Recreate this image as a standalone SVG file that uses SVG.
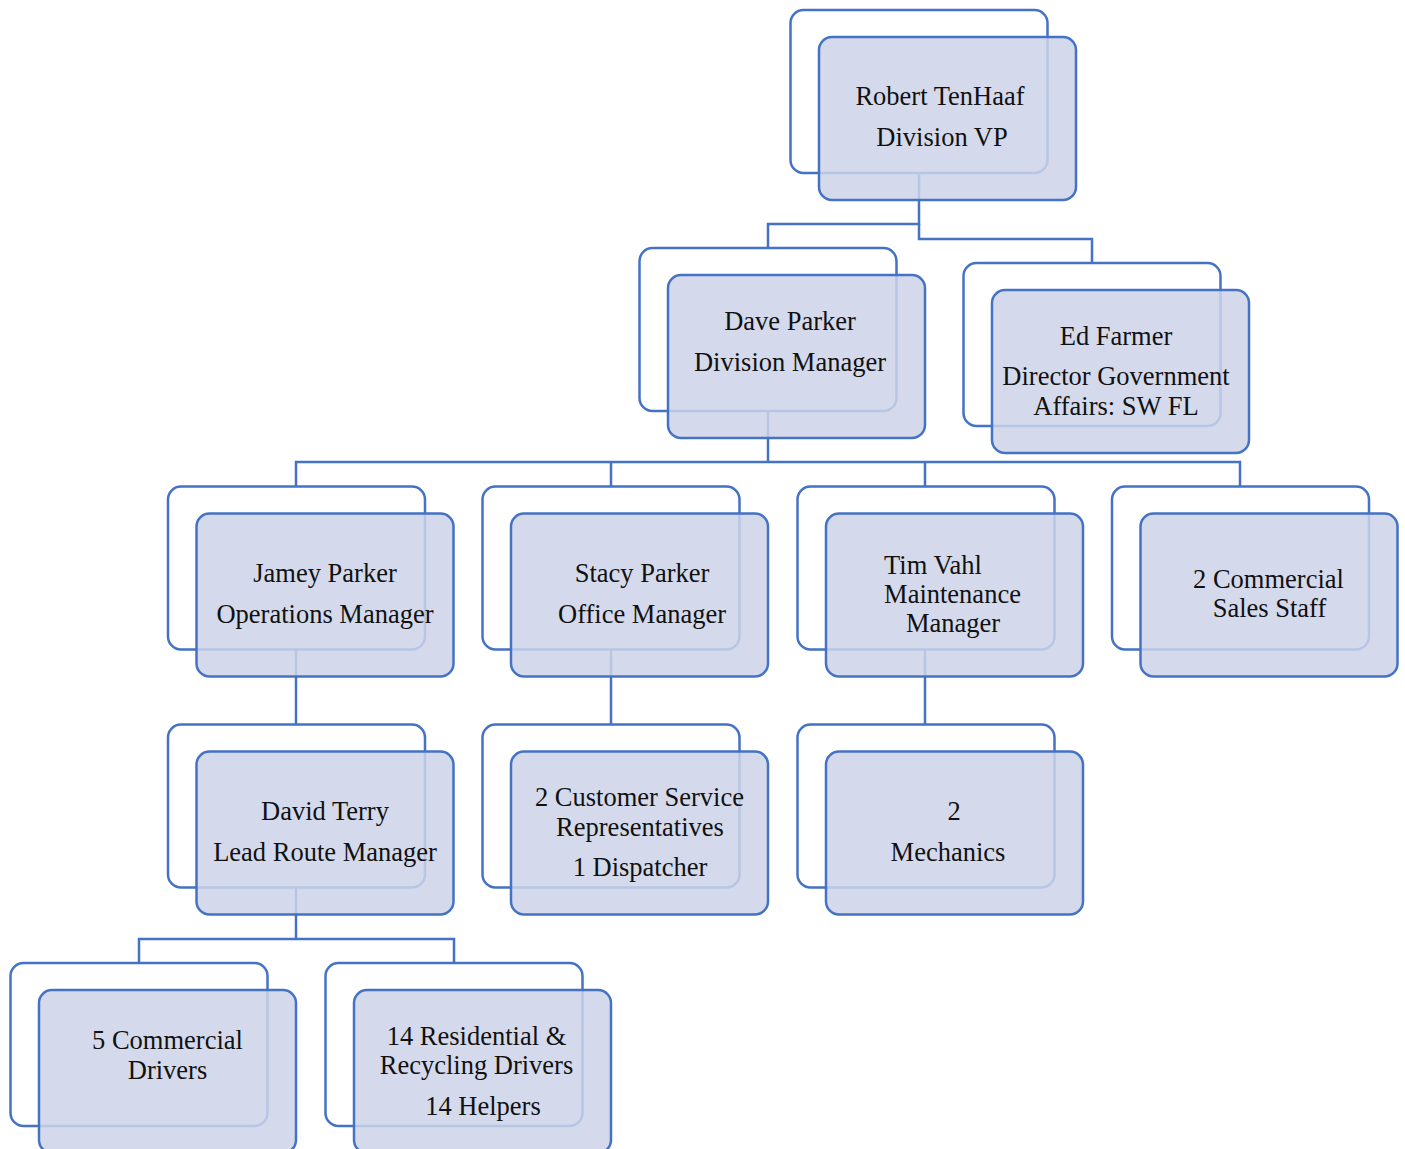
<svg xmlns="http://www.w3.org/2000/svg" width="1405" height="1149" viewBox="0 0 1405 1149">
<style>
.back{fill:#ffffff;stroke:#4472C4;stroke-width:2.5}
.front{fill:rgb(204,211,233);fill-opacity:0.85;stroke:#4472C4;stroke-width:2.5}
.conn{fill:none;stroke:#4472C4;stroke-width:2.5}
text{font-family:"Liberation Serif","Times New Roman",serif;font-size:26.5px;fill:#111111;text-anchor:middle}
</style>
<rect width="1405" height="1149" fill="#ffffff"/>
<g id="connectors">
<path class="conn" d="M919,173 V224 H768 V248"/>
<path class="conn" d="M919,224 V239 H1092 V263"/>
<path class="conn" d="M768,411 V462"/>
<path class="conn" d="M296,486 V462 H1240 V486"/>
<path class="conn" d="M611,462 V486"/>
<path class="conn" d="M925,462 V486"/>
<path class="conn" d="M296,649 V724"/>
<path class="conn" d="M611,649 V724"/>
<path class="conn" d="M925,649 V724"/>
<path class="conn" d="M296,887 V939"/>
<path class="conn" d="M139,963 V939 H454 V963"/>
</g>
<g id="robert">
<rect class="back" x="790.5" y="10" width="257" height="163" rx="13"/>
<rect class="front" x="819" y="37" width="257" height="163" rx="13"/>
<text x="940" y="105">Robert TenHaaf</text>
<text x="942" y="146">Division VP</text>
</g>
<g id="dave">
<rect class="back" x="639.5" y="248" width="257" height="163" rx="13"/>
<rect class="front" x="668" y="275" width="257" height="163" rx="13"/>
<text x="790" y="330">Dave Parker</text>
<text x="790" y="371">Division Manager</text>
</g>
<g id="ed">
<rect class="back" x="963.5" y="263" width="257" height="163" rx="13"/>
<rect class="front" x="992" y="290" width="257" height="163" rx="13"/>
<text x="1116" y="345">Ed Farmer</text>
<text x="1116" y="385">Director Government</text>
<text x="1116" y="415">Affairs: SW FL</text>
</g>
<g id="jamey">
<rect class="back" x="168" y="486.5" width="257" height="163" rx="13"/>
<rect class="front" x="196.5" y="513.5" width="257" height="163" rx="13"/>
<text x="325" y="582">Jamey Parker</text>
<text x="325" y="623">Operations Manager</text>
</g>
<g id="stacy">
<rect class="back" x="482.5" y="486.5" width="257" height="163" rx="13"/>
<rect class="front" x="511" y="513.5" width="257" height="163" rx="13"/>
<text x="642" y="582">Stacy Parker</text>
<text x="642" y="623">Office Manager</text>
</g>
<g id="tim">
<rect class="back" x="797.5" y="486.5" width="257" height="163" rx="13"/>
<rect class="front" x="826" y="513.5" width="257" height="163" rx="13"/>
<text x="933" y="574">Tim Vahl</text>
<text x="952.5" y="603">Maintenance</text>
<text x="953" y="632">Manager</text>
</g>
<g id="sales">
<rect class="back" x="1112" y="486.5" width="257" height="163" rx="13"/>
<rect class="front" x="1140.5" y="513.5" width="257" height="163" rx="13"/>
<text x="1268.5" y="588">2 Commercial</text>
<text x="1269.5" y="617">Sales Staff</text>
</g>
<g id="david">
<rect class="back" x="168" y="724.5" width="257" height="163" rx="13"/>
<rect class="front" x="196.5" y="751.5" width="257" height="163" rx="13"/>
<text x="325" y="820">David Terry</text>
<text x="325" y="861">Lead Route Manager</text>
</g>
<g id="csr">
<rect class="back" x="482.5" y="724.5" width="257" height="163" rx="13"/>
<rect class="front" x="511" y="751.5" width="257" height="163" rx="13"/>
<text x="639.5" y="806">2 Customer Service</text>
<text x="640" y="836">Representatives</text>
<text x="640" y="876">1 Dispatcher</text>
</g>
<g id="mechanics">
<rect class="back" x="797.5" y="724.5" width="257" height="163" rx="13"/>
<rect class="front" x="826" y="751.5" width="257" height="163" rx="13"/>
<text x="954" y="820">2</text>
<text x="948" y="861">Mechanics</text>
</g>
<g id="drivers">
<rect class="back" x="10.5" y="963" width="257" height="163" rx="13"/>
<rect class="front" x="39" y="990" width="257" height="163" rx="13"/>
<text x="167.5" y="1049">5 Commercial</text>
<text x="167.5" y="1079">Drivers</text>
</g>
<g id="residential">
<rect class="back" x="325.5" y="963" width="257" height="163" rx="13"/>
<rect class="front" x="354" y="990" width="257" height="163" rx="13"/>
<text x="476.5" y="1045">14 Residential &amp;</text>
<text x="476.5" y="1074">Recycling Drivers</text>
<text x="483" y="1115">14 Helpers</text>
</g>
</svg>
